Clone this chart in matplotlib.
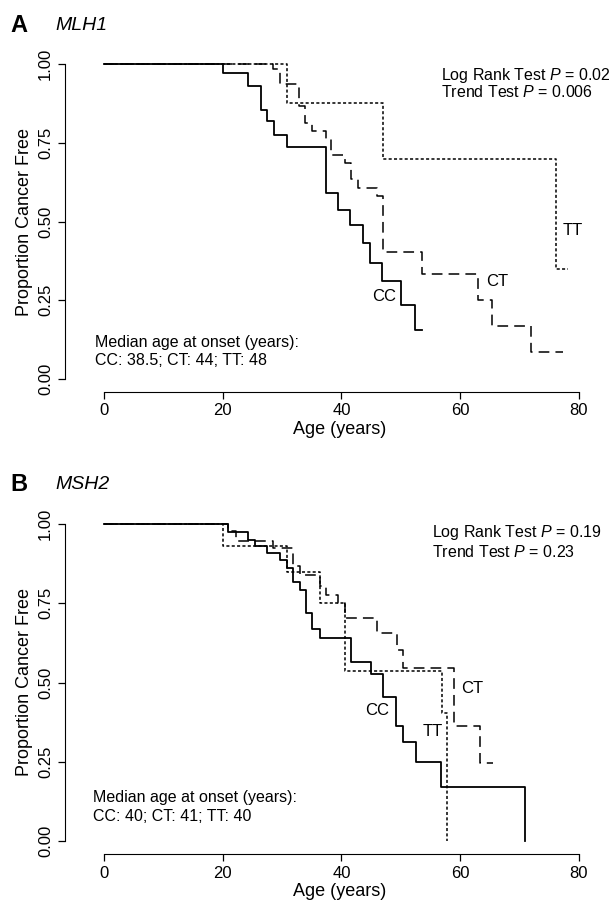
import matplotlib
matplotlib.use('Agg')
import matplotlib.pyplot as plt

plt.rcParams['font.family'] = ['Liberation Sans', 'DejaVu Sans']
plt.rcParams['mathtext.fontset'] = 'custom'
plt.rcParams['mathtext.it'] = 'Liberation Sans:italic'
plt.rcParams['mathtext.rm'] = 'Liberation Sans'

# Panel A: MLH1  (age at step, survival after step)
a_cc_age = [0, 20.0, 24.3, 26.5, 27.5, 28.6, 30.8, 37.4, 39.4, 41.5, 43.7, 44.8, 46.9, 50.1, 52.4, 53.5]
a_cc_s = [1.0, 0.971, 0.931, 0.854, 0.819, 0.775, 0.735, 0.589, 0.538, 0.490, 0.432, 0.368, 0.310, 0.236, 0.156, 0.156]
a_ct_age = [0, 28.5, 29.6, 32.9, 33.8, 35.0, 37.4, 38.3, 40.6, 41.6, 42.8, 45.9, 47.0, 53.5, 63.0, 65.4, 72.0, 77.3]
a_ct_s = [1.0, 0.984, 0.936, 0.868, 0.813, 0.788, 0.761, 0.711, 0.687, 0.636, 0.607, 0.581, 0.402, 0.334, 0.252, 0.167, 0.085, 0.085]
a_tt_age = [0, 30.8, 47.0, 76.2, 78.2]
a_tt_s = [1.0, 0.875, 0.70, 0.35, 0.35]

# Panel B: MSH2
b_cc_age = [0, 20.9, 24.3, 25.4, 27.5, 29.6, 30.8, 31.9, 33.0, 34.1, 35.1, 36.3, 41.6, 44.9, 47.0, 49.2, 50.3, 52.5, 56.7, 70.9, 70.9]
b_cc_s = [1.0, 0.976, 0.950, 0.929, 0.908, 0.885, 0.860, 0.818, 0.792, 0.718, 0.670, 0.641, 0.566, 0.528, 0.453, 0.363, 0.311, 0.248, 0.169, 0.0, 0.0]
b_ct_age = [0, 20.9, 22.2, 28.5, 31.9, 33.0, 36.4, 37.4, 39.4, 40.6, 45.9, 49.3, 50.3, 58.9, 63.3, 65.5]
b_ct_s = [1.0, 0.978, 0.947, 0.924, 0.868, 0.839, 0.805, 0.777, 0.750, 0.703, 0.655, 0.603, 0.545, 0.364, 0.245, 0.245]
b_tt_age = [0, 20.0, 30.8, 36.3, 40.6, 56.9, 57.8, 57.8]
b_tt_s = [1.0, 0.929, 0.850, 0.750, 0.537, 0.403, 0.0, 0.0]

fig = plt.figure(figsize=(6.14, 9.02), dpi=100)
W, H = 614.0, 902.0


def make_axes(top_px, bottom_px):
    ax = fig.add_axes([65 / W, 1 - bottom_px / H, (W - 65) / W, (bottom_px - top_px) / H])
    ax.set_xlim(-6.57, 85.9)
    ax.set_ylim(-0.04, 1.04)
    for s in ['top', 'right']:
        ax.spines[s].set_visible(False)
    ax.spines['left'].set_bounds(0, 1)
    ax.spines['bottom'].set_bounds(0, 80)
    ax.set_xticks([0, 20, 40, 60, 80])
    ax.set_yticks([0, 0.25, 0.5, 0.75, 1.0])
    ax.set_yticklabels(['0.00', '0.25', '0.50', '0.75', '1.00'], rotation=90, va='center')
    ax.tick_params(direction='out', length=5, width=0.9, labelsize=12)
    ax.set_xlabel('Age (years)', fontsize=13, labelpad=2)
    ax.set_ylabel('Proportion Cancer Free', fontsize=13, labelpad=4)
    return ax


axA = make_axes(51.4, 391.6)
axA.step(a_cc_age, a_cc_s, where='post', color='black', lw=1.3)
axA.step(a_ct_age, a_ct_s, where='post', color='black', lw=1.1, dashes=(7, 4))
axA.step(a_tt_age, a_tt_s, where='post', color='black', lw=1.1, dashes=(2, 1.5))
axA.text(47.1, 0.261, 'CC', fontsize=12, ha='center', va='center')
axA.text(66.2, 0.309, 'CT', fontsize=12, ha='center', va='center')
axA.text(79.0, 0.473, 'TT', fontsize=12, ha='center', va='center')
axA.text(56.8, 0.965, 'Log Rank Test $P$ = 0.02', fontsize=11.5, va='center')
axA.text(56.8, 0.91, 'Trend Test $P$ = 0.006', fontsize=11.5, va='center')
axA.text(-1.5, 0.117, 'Median age at onset (years):', fontsize=11.5, va='center')
axA.text(-1.5, 0.06, 'CC: 38.5; CT: 44; TT: 48', fontsize=11.5, va='center')

axB = make_axes(511.3, 853.7)
axB.step(b_cc_age, b_cc_s, where='post', color='black', lw=1.3)
axB.step(b_ct_age, b_ct_s, where='post', color='black', lw=1.1, dashes=(7, 4))
axB.step(b_tt_age, b_tt_s, where='post', color='black', lw=1.1, dashes=(2, 1.5))
axB.text(46.0, 0.413, 'CC', fontsize=12, ha='center', va='center')
axB.text(62.0, 0.482, 'CT', fontsize=12, ha='center', va='center')
axB.text(55.4, 0.345, 'TT', fontsize=12, ha='center', va='center')
axB.text(55.2, 0.972, 'Log Rank Test $P$ = 0.19', fontsize=11.5, va='center')
axB.text(55.2, 0.912, 'Trend Test $P$ = 0.23', fontsize=11.5, va='center')
axB.text(-1.85, 0.136, 'Median age at onset (years):', fontsize=11.5, va='center')
axB.text(-1.85, 0.076, 'CC: 40; CT: 41; TT: 40', fontsize=11.5, va='center')

fig.text(10 / W, 1 - 26 / H, 'A', fontsize=17, fontweight='bold', va='center')
fig.text(55 / W, 1 - 26 / H, 'MLH1', fontsize=14, style='italic', va='center')
fig.text(10 / W, 1 - 484 / H, 'B', fontsize=17, fontweight='bold', va='center')
fig.text(55 / W, 1 - 484 / H, 'MSH2', fontsize=14, style='italic', va='center')

fig.savefig('out.png', dpi=100)
